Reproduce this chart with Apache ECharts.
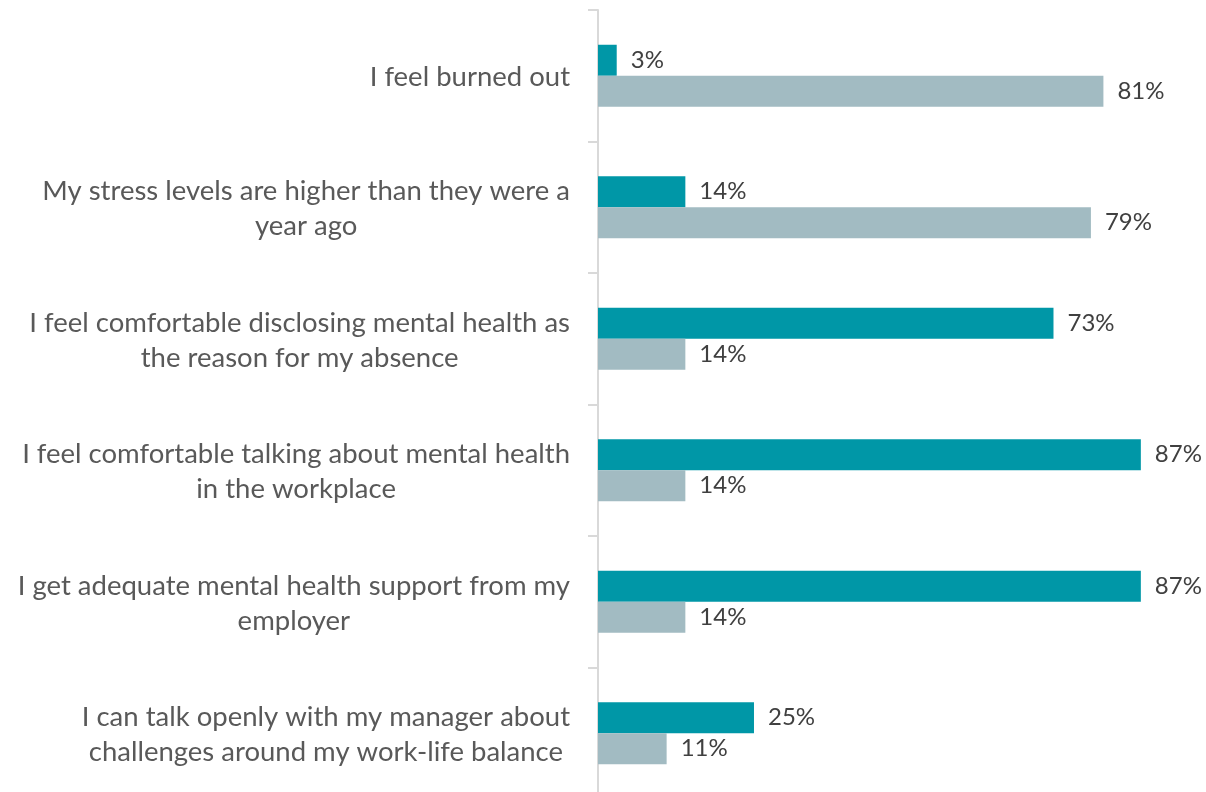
<!DOCTYPE html>
<html>
<head>
<meta charset="utf-8">
<script src="https://cdn.jsdelivr.net/npm/echarts@6/dist/echarts.min.js"></script>
<style>html,body{margin:0;padding:0;background:#fff;overflow:hidden;}#c{width:1206px;height:800px;}</style>
</head>
<body>
<div id="c"></div>
<script>
const categories = [
  'I feel burned out',
  'My stress levels are higher than they were a\nyear ago',
  'I feel comfortable disclosing mental health as\nthe reason for my absence',
  'I feel comfortable talking about mental health\nin the workplace',
  'I get adequate mental health support from my\nemployer',
  'I can talk openly with my manager about\nchallenges around my work-life balance'
];
const seriesA = [3, 14, 73, 87, 87, 25];
const seriesB = [81, 79, 14, 14, 14, 11];

const chart = echarts.init(document.getElementById('c'));
const labelStyle = {
  show: true, position: 'right', distance: 14,
  formatter: p => p.value + '%',
  color: '#404040', fontFamily: 'Lato', fontSize: 24
};
chart.setOption({
  animation: false,
  grid: { left: 598, top: 10, width: 599, height: 789, containLabel: false },
  xAxis: { type: 'value', min: 0, max: 96, show: false },
  yAxis: {
    type: 'category', data: categories, inverse: true,
    axisLine: { show: true, lineStyle: { color: '#d9d9d9', width: 2 } },
    axisTick: { show: true, length: 10, lineStyle: { color: '#d9d9d9', width: 2 } },
    axisLabel: {
      margin: 28, align: 'right', fontFamily: 'Lato', fontSize: 27.5, color: '#595959',
      formatter: v => v.split('\n').map(s => '{a|' + s + '}').join('\n'),
      rich: { a: { align: 'center', fontFamily: 'Lato', fontSize: 27.5, color: '#595959', lineHeight: 35, padding: [3, 0, 0, 0] } }
    },
    splitLine: { show: false }
  },
  series: [
    { type: 'bar', data: seriesA, barWidth: 31, barGap: '0%', itemStyle: { color: '#0097A7' }, label: labelStyle },
    { type: 'bar', data: seriesB, barWidth: 31, barGap: '0%', itemStyle: { color: '#A2BBC2' }, label: labelStyle }
  ]
});
</script>
</body>
</html>
